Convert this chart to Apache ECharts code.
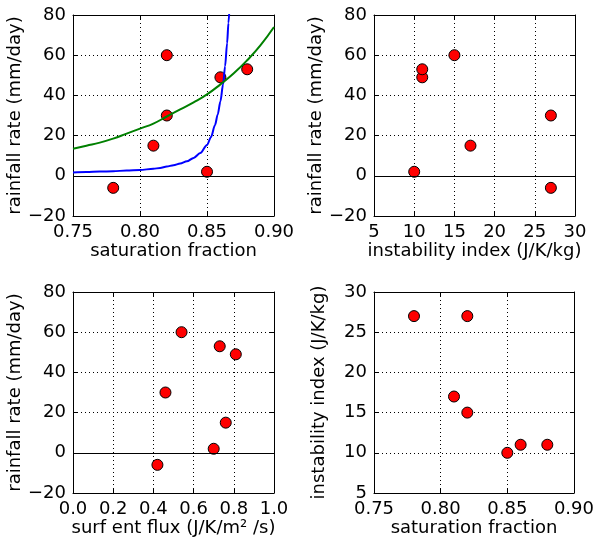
<!DOCTYPE html>
<html><head><meta charset="utf-8">
<script src="https://cdn.jsdelivr.net/npm/echarts@6/dist/echarts.min.js"></script>
<style>html,body{margin:0;padding:0;background:#fff}#c{width:597px;height:543px}</style>
</head><body><div id="c"></div>
<script>
// observations
const satFrac     = [0.78, 0.81, 0.82, 0.82, 0.85, 0.86, 0.88];
const rainRate    = [-6, 15, 30, 60, 2, 49, 53];
const instabIdx   = [27, 17, 27, 15, 10, 11, 11];
const surfEntFlux = [0.42, 0.76, 0.46, 0.54, 0.70, 0.81, 0.73];
// fitted curves
const greenX = [0.75, 0.76, 0.77, 0.78, 0.79, 0.80, 0.81, 0.82, 0.83, 0.84, 0.85, 0.86, 0.87, 0.88, 0.89, 0.90];
const greenY = [13.5, 15, 16.5, 18.5, 21, 23.5, 26, 29.5, 33, 36.5, 40.5, 45.5, 51, 57.5, 65, 74];
const blueX  = [0.75, 0.76, 0.77, 0.78, 0.79, 0.80, 0.81, 0.815, 0.82, 0.825, 0.83, 0.835, 0.84, 0.845, 0.85, 0.853, 0.856, 0.858, 0.86, 0.862, 0.8635, 0.865, 0.866, 0.867];
const blueY  = [1.7, 1.9, 2.1, 2.3, 2.6, 2.9, 3.5, 3.9, 4.6, 5.3, 6.1, 7.2, 8.9, 11.3, 15.3, 19.3, 25.3, 30.5, 37, 45.5, 54.5, 66, 76, 86];
// axis ranges
const rainAxis = {min: -20, max: 80, interval: 20};
const satAxis = {min: 0.75, max: 0.90, interval: 0.05};
const instabAxisX = {min: 5, max: 30, interval: 5};
const fluxAxis = {min: 0, max: 1, interval: 0.2};
const instabAxisY = {min: 5, max: 30, interval: 5};

const FONT = 'DejaVu Sans';
const FS = 18;
const zip = (a, b) => a.map((v, i) => [v, b[i]]);
const minus = s => String(s).replace('-', '\u2212');

const grids = [
  {left: 73, top: 15, width: 201, height: 201},
  {left: 374, top: 15, width: 201, height: 201},
  {left: 73, top: 292, width: 201, height: 201},
  {left: 374, top: 292, width: 201, height: 201}
];

function baseAxis(range, fmt) {
  return {
    type: 'value', min: range.min, max: range.max, interval: range.interval,
    axisLine: {show: true, onZero: false, lineStyle: {color: '#000', width: 1}},
    axisTick: {show: true, inside: true, length: 4, lineStyle: {color: '#000', width: 1}},
    axisLabel: {show: true, color: '#000', fontFamily: FONT, fontSize: FS, margin: 7,
      showMinLabel: true, showMaxLabel: true, hideOverlap: false, formatter: fmt},
    splitLine: {show: true, lineStyle: {color: '#000', width: 1, type: [1, 3]}},
    nameTextStyle: {color: '#000', fontFamily: FONT, fontSize: FS},
    nameLocation: 'middle'
  };
}
function mirror(a, pos) {
  const m = JSON.parse(JSON.stringify(a));
  m.position = pos;
  m.axisLabel = {show: false};
  m.splitLine = {show: false};
  m.name = '';
  return m;
}

const xDefs = [
  [satAxis, v => v.toFixed(2), 'saturation fraction'],
  [instabAxisX, v => String(v), 'instability index (J/K/kg)'],
  [fluxAxis, v => v.toFixed(1), 'surf ent flux (J/K/m\u00B2 /s)'],
  [satAxis, v => v.toFixed(2), 'saturation fraction']
];
const yDefs = [
  [rainAxis, v => minus(v), 'rainfall rate (mm/day)'],
  [rainAxis, v => minus(v), 'rainfall rate (mm/day)'],
  [rainAxis, v => minus(v), 'rainfall rate (mm/day)'],
  [instabAxisY, v => String(v), 'instability index (J/K/kg)']
];

const xAxis = [], yAxis = [];
for (let i = 0; i < 4; i++) {
  const xa = baseAxis(xDefs[i][0], xDefs[i][1]);
  xa.gridIndex = i; xa.position = 'bottom'; xa.name = xDefs[i][2]; xa.nameGap = 26;
  xAxis.push(xa, Object.assign(mirror(xa, 'top'), {gridIndex: i}));
  const ya = baseAxis(yDefs[i][0], yDefs[i][1]);
  ya.gridIndex = i; ya.position = 'left'; ya.name = yDefs[i][2]; ya.nameGap = 46;
  yAxis.push(ya, Object.assign(mirror(ya, 'right'), {gridIndex: i}));
}

const zeroLine = {
  silent: true, symbol: 'none', label: {show: false},
  lineStyle: {color: '#000', type: 'solid', width: 1},
  data: [{yAxis: 0}]
};
function scatter(i, data, withZero) {
  const s = {
    type: 'scatter', xAxisIndex: 2 * i, yAxisIndex: 2 * i, data: data,
    symbolSize: 11, z: 3,
    itemStyle: {color: '#ff0000', borderColor: '#000', borderWidth: 1, opacity: 1}
  };
  if (withZero) s.markLine = zeroLine;
  return s;
}

const series = [
  scatter(0, zip(satFrac, rainRate), true),
  {type: 'line', xAxisIndex: 0, yAxisIndex: 0, data: zip(blueX, blueY), showSymbol: false,
   smooth: 0.3, smoothMonotone: 'x', clip: true, z: 4, lineStyle: {color: '#0000ff', width: 2}},
  {type: 'line', xAxisIndex: 0, yAxisIndex: 0, data: zip(greenX, greenY), showSymbol: false,
   smooth: true, clip: true, z: 4, lineStyle: {color: '#008000', width: 2}},
  scatter(1, zip(instabIdx, rainRate), true),
  scatter(2, zip(surfEntFlux, rainRate), true),
  scatter(3, zip(satFrac, instabIdx), false)
];

const chart = echarts.init(document.getElementById('c'), null, {renderer: 'canvas'});
chart.setOption({animation: false, backgroundColor: '#fff', grid: grids, xAxis: xAxis, yAxis: yAxis, series: series});
</script></body></html>
